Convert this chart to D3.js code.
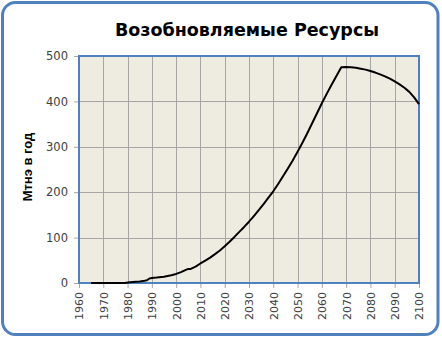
<!DOCTYPE html>
<html><head><meta charset="utf-8">
<script src="https://cdn.jsdelivr.net/npm/d3@7"></script>
<style>body{margin:0;background:#fff}svg{display:block}</style>
</head><body>
<svg id="c" width="442" height="337"></svg>
<script>
const title = "Возобновляемые Ресурсы";
const yLabel = "Мтнэ в год";
const years = [1965,1970,1975,1979,1980,1982,1985,1987,1988,1989,1990,1992,1995,1998,2000,2002,2004,2005,2006,2008,
  2010,2012,2014,2016,2018,2020,2022,2024,2026,2028,2030,2032,2034,2036,2038,2040,2042,2044,2046,2048,
  2050,2052,2054,2056,2058,2060,2062,2064,2066,2068,2070,2072,2074,2076,2078,2080,2082,2084,2086,2088,2090,2092,2094,2096,2098,2100];
const values = [0,0,0,0,1,2,3.5,5,6,10,11,12,14,17,20,24,29,31,31,36,
  43,49.5,56,63.5,71.5,81,91,101.5,112.5,123.5,135,147.5,160.5,174,188,202,218,235,252,270,
  289,309,330,352,374,396,416.5,436.5,456,475,475.5,475,474,472,470,467,463.5,459.5,455,450,444,437.5,430,421,409,394];
const xTicks = [1960,1970,1980,1990,2000,2010,2020,2030,2040,2050,2060,2070,2080,2090,2100];
const yTicks = [0,100,200,300,400,500];

const svg = d3.select("#c");
svg.append("rect").attr("x",2.5).attr("y",2.5).attr("width",435.5).attr("height",332)
  .attr("rx",13).attr("fill","#fff").attr("stroke","#4F81BD").attr("stroke-width",3);

const L=79, R=419, T=56, B=283;
const x = d3.scaleLinear().domain([1960,2100]).range([L,R]);
const y = d3.scaleLinear().domain([0,500]).range([B,T]);

svg.append("rect").attr("x",L).attr("y",T).attr("width",R-L).attr("height",B-T).attr("fill","#EEECE1");

const g = svg.append("g");
g.selectAll(".vg").data(xTicks.slice(1,-1)).join("line")
  .attr("x1",d=>Math.round(x(d))+0.5).attr("x2",d=>Math.round(x(d))+0.5).attr("y1",T).attr("y2",B)
  .attr("stroke","#a6a6a6").attr("stroke-width",1);
g.selectAll(".hg").data(yTicks.slice(1,-1)).join("line")
  .attr("x1",L).attr("x2",R).attr("y1",d=>Math.round(y(d))+0.5).attr("y2",d=>Math.round(y(d))+0.5)
  .attr("stroke","#a6a6a6").attr("stroke-width",1);

const xAxis = svg.append("g").attr("transform",`translate(0,${B})`)
  .call(d3.axisBottom(x).tickValues(xTicks).tickFormat(d3.format("d")).tickSize(5).tickSizeOuter(0));
xAxis.select(".domain").remove();
xAxis.selectAll(".tick line").attr("stroke","#a6a6a6");
xAxis.selectAll("text").attr("transform","rotate(-90)").attr("text-anchor","end")
  .attr("x",-9).attr("y",0).attr("dy","0.35em")
  .style("font-family","DejaVu Sans").style("font-size","11px").attr("fill","#404040");

const yAxis = svg.append("g").attr("transform",`translate(${L},0)`)
  .call(d3.axisLeft(y).tickValues(yTicks).tickSize(5).tickSizeOuter(0));
yAxis.select(".domain").remove();
yAxis.selectAll(".tick line").attr("stroke","#a6a6a6");
yAxis.selectAll("text").attr("x",-11)
  .style("font-family","DejaVu Sans").style("font-size","11.5px").attr("fill","#404040");

svg.append("rect").attr("x",L).attr("y",T).attr("width",R-L).attr("height",B-T)
  .attr("fill","none").attr("stroke","#4F81BD").attr("stroke-width",2);

const line = d3.line().x((d,i)=>x(years[i])).y(d=>y(d)).curve(d3.curveLinear);
svg.append("path").datum(values).attr("d",line).attr("fill","none")
  .attr("stroke","#000").attr("stroke-width",2).attr("stroke-linejoin","round");

svg.append("text").attr("x",247).attr("y",36).attr("text-anchor","middle")
  .style("font-family","DejaVu Sans").style("font-weight","bold").style("font-size","17.5px")
  .attr("fill","#000").text(title);

svg.append("text").attr("transform","translate(32,167) rotate(-90)").attr("text-anchor","middle")
  .style("font-family","Liberation Sans").style("font-weight","bold").style("font-size","13px")
  .attr("fill","#000").text(yLabel);
</script>
</body></html>
